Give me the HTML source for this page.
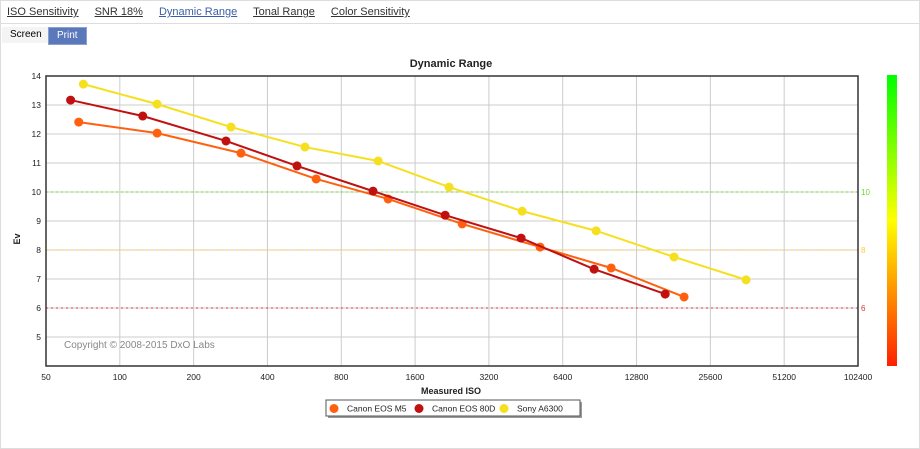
<!DOCTYPE html>
<html><head><meta charset="utf-8"><style>
body{margin:0;width:920px;height:449px;background:#fff;font-family:"Liberation Sans",sans-serif;overflow:hidden}
.frame{position:absolute;left:0;top:0;width:918px;height:447px;border:1px solid #ddd}
.tabs{position:absolute;left:7px;top:6px;font-size:11px}
.tabs a{color:#333;text-decoration:underline;margin-right:13px}
.tabs a.act{color:#3a5fa8}
.sep{position:absolute;left:0;top:23px;width:920px;border-top:1px solid #ddd}
.btn{position:absolute;top:27px;height:16px;font-size:10px;line-height:16px;padding:0 8px}
</style></head><body>
<div class="frame"></div>
<div class="tabs">
<a>ISO Sensitivity</a>
<a>SNR 18%</a>
<a class="act">Dynamic Range</a>
<a>Tonal Range</a>
<a>Color Sensitivity</a>
</div>
<div class="sep"></div>
<div class="btn" style="left:2px;background:#f4f4f4;color:#000">Screen</div>
<div class="btn" style="left:48px;background:#5b78bb;color:#fff;border:1px solid #8aa0d0">Print</div>
<svg id="c" width="920" height="449" style="position:absolute;left:0;top:0">
<defs><linearGradient id="g" x1="0" y1="1" x2="0" y2="0">
<stop offset="0" stop-color="#ff2000"/><stop offset="0.5" stop-color="#ffff00"/><stop offset="1" stop-color="#00ff00"/></linearGradient></defs>
</svg>
<script>
const isoTicks=[50,100,200,400,800,1600,3200,6400,12800,25600,51200,102400];
const evTicks=[4,5,6,7,8,9,10,11,12,13,14];
const names=["Canon EOS M5","Canon EOS 80D","Sony A6300"];
const colors=["#ff6010","#c01010","#f5e020"];
const m5Iso=[68,142,312,632,1242,2490,5175,10087,20000];
const m5Ev=[12.41,12.03,11.34,10.45,9.76,8.9,8.1,7.38,6.38];
const d80Iso=[63,124,271,528,1078,2122,4330,8594,16750];
const d80Ev=[13.17,12.62,11.76,10.9,10.03,9.2,8.41,7.34,6.48];
const sonyIso=[71,142,284,569,1131,2201,4371,8760,18200,35800];
const sonyEv=[13.72,13.03,12.24,11.55,11.07,10.17,9.34,8.66,7.76,6.97];
const L=46,R=858,T=76,B=366;
const X=v=>L+(R-L)*Math.log2(v/50)/11;
const Y=v=>B-(B-T)*(v-4)/10;
const s=document.getElementById('c');const NS='http://www.w3.org/2000/svg';
function mk(t,a,p){const e=document.createElementNS(NS,t);for(const k in a)e.setAttribute(k,a[k]);(p||s).appendChild(e);return e;}
function tx(x,y,str,a){const e=mk('text',Object.assign({x:x,y:y,'font-size':9,'font-family':'"Liberation Sans",sans-serif',fill:'#222'},a||{}));e.textContent=str;return e;}
let t=tx(451,67,'Dynamic Range',{'font-size':11,'font-weight':'bold','text-anchor':'middle'});


evTicks.forEach(v=>{const l=mk('line',{x1:L,x2:R,y1:Y(v),y2:Y(v),stroke:'#ccc'});


if(v>=5){const e=tx(41,Y(v)+3,String(v),{'text-anchor':'end','font-size':8.5});

}});
isoTicks.forEach(v=>{const l=mk('line',{x1:X(v),x2:X(v),y1:T,y2:B,stroke:'#ccc'});


const e=tx(X(v),380,String(v),{'text-anchor':'middle','font-size':8.5});

});
[[10,'#66dd22'],[8,'#ffcc33'],[6,'#dd3333']].forEach(([v,c])=>{const l=mk('line',{x1:L,x2:R,y1:Y(v),y2:Y(v),stroke:c,'stroke-dasharray':'2,3'});


const e=tx(R+3,Y(v)+3,String(v),{fill:c,'font-size':8});

});
const ax=mk('rect',{x:L,y:T,width:R-L,height:B-T,fill:'none',stroke:'#333','stroke-width':1.5});


const gb=mk('rect',{x:887,y:75,width:10,height:291,fill:'url(#g)'});


t=tx(64,348,'Copyright © 2008-2015 DxO Labs',{fill:'#888','font-size':10});


t=tx(451,394,'Measured ISO',{'font-weight':'bold','text-anchor':'middle','font-size':9});


t=tx(20,239,'Ev',{'font-weight':'bold','text-anchor':'middle',transform:'rotate(-90 20 239)'});


[[m5Iso,m5Ev],[d80Iso,d80Ev],[sonyIso,sonyEv]].forEach(([xs,ys],i)=>{
const g=mk('g',{});


const p=mk('polyline',{points:xs.map((v,j)=>X(v)+','+Y(ys[j])).join(' '),fill:'none',stroke:colors[i],'stroke-width':2},g);


xs.forEach((v,j)=>{const c=mk('circle',{cx:X(v),cy:Y(ys[j]),r:4.5,fill:colors[i]},g);

});});
const lg=mk('g',{});


mk('rect',{x:328,y:402,width:254,height:16,fill:'#999'},lg);
mk('rect',{x:326,y:400,width:254,height:16,fill:'#fff',stroke:'#555'},lg);
const lx=[334,419,504];
names.forEach((n,i)=>{const e=mk('g',{},lg);


mk('circle',{cx:lx[i],cy:408.5,r:4.5,fill:colors[i]},e);
tx(lx[i]+13,411.5,n,{'font-size':8.5},).remove();
const tt=mk('text',{x:lx[i]+13,y:411.5,'font-size':8.5,'font-family':'"Liberation Sans",sans-serif',fill:'#222'},e);tt.textContent=n;});
</script>
</body></html>
